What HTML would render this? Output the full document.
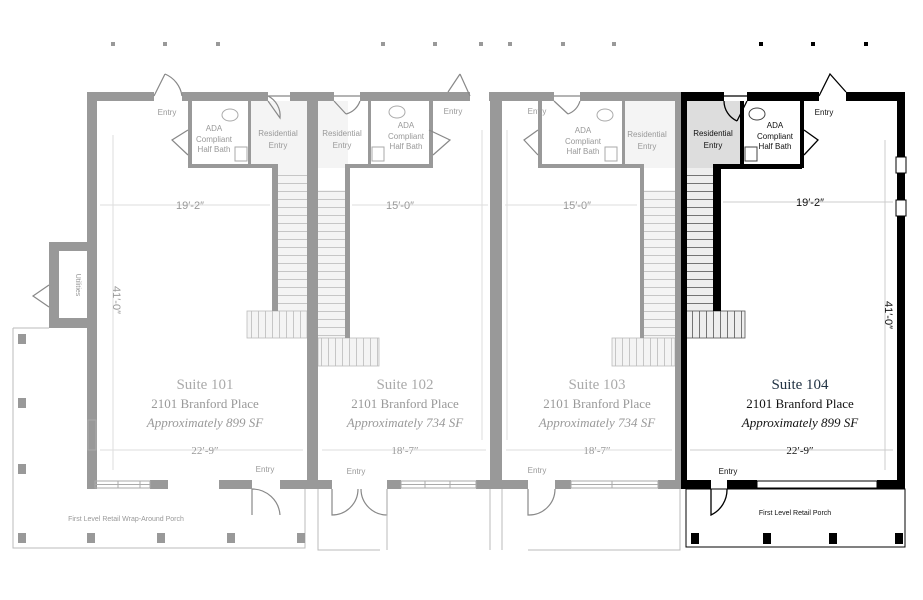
<!DOCTYPE html>
<html><head><meta charset="utf-8"><style>
html,body{margin:0;padding:0;background:#fff;}
svg{display:block;}
text{font-family:"Liberation Sans",sans-serif;}
.s text, text.s{font-family:"Liberation Serif",serif;}
</style></head><body>
<svg width="923" height="600" viewBox="0 0 923 600" xmlns="http://www.w3.org/2000/svg">
<defs>
<pattern id="st" width="10" height="8" patternUnits="userSpaceOnUse"><rect width="10" height="8" fill="#f4f4f4"/><line x1="0" y1="7.5" x2="10" y2="7.5" stroke="#bbb" stroke-width="0.8"/></pattern>
<pattern id="stv" width="7" height="10" patternUnits="userSpaceOnUse"><rect width="7" height="10" fill="#f4f4f4"/><line x1="6.5" y1="0" x2="6.5" y2="10" stroke="#bbb" stroke-width="0.8"/></pattern>
<pattern id="stb" width="10" height="8" patternUnits="userSpaceOnUse"><rect width="10" height="8" fill="#eee"/><line x1="0" y1="7.5" x2="10" y2="7.5" stroke="#555" stroke-width="0.8"/></pattern>
<pattern id="stvb" width="7" height="10" patternUnits="userSpaceOnUse"><rect width="7" height="10" fill="#eee"/><line x1="6.5" y1="0" x2="6.5" y2="10" stroke="#555" stroke-width="0.8"/></pattern>
</defs>

<g fill="#999">
<rect x="111" y="42" width="4" height="4"/><rect x="163" y="42" width="4" height="4"/><rect x="216" y="42" width="4" height="4"/>
<rect x="381" y="42" width="4" height="4"/><rect x="433" y="42" width="4" height="4"/><rect x="479" y="42" width="4" height="4"/>
<rect x="508" y="42" width="4" height="4"/><rect x="561" y="42" width="4" height="4"/><rect x="612" y="42" width="4" height="4"/>
</g>
<g fill="#000">
<rect x="759" y="42" width="4" height="4"/><rect x="811" y="42" width="4" height="4"/><rect x="864" y="42" width="4" height="4"/>
</g>

<rect x="250" y="101" width="57" height="67" fill="#f4f4f4"/>
<rect x="318" y="101" width="30" height="67" fill="#f4f4f4"/>
<rect x="625" y="101" width="50" height="67" fill="#f4f4f4"/>
<rect x="686" y="101" width="54" height="67" fill="#ddd"/>

<rect x="278" y="168" width="29" height="143" fill="url(#st)"/>
<rect x="247" y="311" width="60" height="27" fill="url(#stv)" stroke="#bbb" stroke-width="0.8"/>
<rect x="318" y="190" width="27" height="148" fill="url(#st)"/>
<rect x="318" y="338" width="61" height="28" fill="url(#stv)" stroke="#bbb" stroke-width="0.8"/>
<rect x="644" y="190" width="31" height="148" fill="url(#st)"/>
<rect x="612" y="338" width="63" height="28" fill="url(#stv)" stroke="#bbb" stroke-width="0.8"/>
<rect x="686" y="168" width="28" height="143" fill="url(#stb)"/>
<rect x="686" y="311" width="59" height="27" fill="url(#stvb)" stroke="#555" stroke-width="0.8"/>

<g fill="#999">
<rect x="87" y="92" width="67" height="9"/><rect x="182" y="92" width="86" height="9"/><rect x="290" y="92" width="44" height="9"/><rect x="360" y="92" width="110" height="9"/><rect x="489" y="92" width="65" height="9"/><rect x="580" y="92" width="101" height="9"/>
<rect x="87" y="92" width="10" height="397"/>
<rect x="49" y="242" width="48" height="9"/><rect x="49" y="242" width="10" height="86"/><rect x="49" y="318" width="48" height="10"/>
<rect x="307" y="92" width="11" height="397"/>
<rect x="490" y="92" width="12" height="397"/>
<rect x="675" y="92" width="6" height="397"/>
<rect x="188" y="101" width="4" height="67"/><rect x="188" y="164" width="90" height="4"/><rect x="248" y="101" width="3" height="67"/><rect x="272" y="164" width="6" height="147"/>
<rect x="345" y="164" width="30" height="4"/><rect x="345" y="164" width="5" height="174"/><rect x="368" y="101" width="3" height="67"/><rect x="429" y="101" width="4" height="67"/><rect x="371" y="164" width="62" height="4"/>
<rect x="538" y="101" width="4" height="67"/><rect x="538" y="164" width="106" height="4"/><rect x="622" y="101" width="3" height="67"/><rect x="640" y="164" width="4" height="174"/>
<rect x="87" y="480" width="8" height="9"/><rect x="150" y="480" width="18" height="9"/><rect x="219" y="480" width="33" height="9"/><rect x="280" y="480" width="38" height="9"/>
<rect x="318" y="480" width="14" height="9"/><rect x="387" y="480" width="14" height="9"/><rect x="476" y="480" width="30" height="9"/>
<rect x="502" y="480" width="26" height="9"/><rect x="555" y="480" width="16" height="9"/><rect x="658" y="480" width="23" height="9"/>
</g>
<g fill="none" stroke="#aaa" stroke-width="1">
<rect x="95" y="481" width="55" height="7"/><line x1="95" y1="484.5" x2="150" y2="484.5"/><line x1="118" y1="481" x2="118" y2="488"/><line x1="140" y1="481" x2="140" y2="488"/>
<rect x="401" y="481" width="75" height="7"/><line x1="401" y1="484.5" x2="476" y2="484.5"/><line x1="425" y1="481" x2="425" y2="488"/><line x1="450" y1="481" x2="450" y2="488"/>
<rect x="571" y="481" width="87" height="7"/><line x1="571" y1="484.5" x2="658" y2="484.5"/><line x1="612" y1="481" x2="612" y2="488"/>
<rect x="88" y="420" width="8" height="30"/>
</g>

<g fill="#000">
<rect x="681" y="92" width="43" height="9"/><rect x="747" y="92" width="72" height="9"/><rect x="846" y="92" width="59" height="9"/>
<rect x="681" y="92" width="6" height="397"/>
<rect x="897" y="92" width="8" height="397"/>
<rect x="713" y="164" width="30" height="5"/><rect x="713" y="164" width="8" height="147"/>
<rect x="740" y="101" width="4" height="67"/><rect x="740" y="164" width="62" height="5"/><rect x="800" y="101" width="4" height="67"/>
<rect x="681" y="480" width="30" height="9"/><rect x="727" y="480" width="30" height="9"/><rect x="877" y="480" width="28" height="9"/>
</g>
<g fill="#fff" stroke="#000" stroke-width="1">
<rect x="896" y="157" width="10" height="16"/><rect x="896" y="200" width="10" height="16"/>
<rect x="757" y="481" width="120" height="7"/>
</g>
<line x1="901" y1="360" x2="901" y2="470" stroke="#000" stroke-width="1"/>

<g fill="none" stroke="#888" stroke-width="1.2">
<path d="M154 96 L165 74 M182 96 A28 28 0 0 0 165 74"/>
<path d="M268 96 L290 96 M268 96 A22 22 0 0 1 280 118 L268 101"/>
<path d="M334 96 L360 96 M346 114 A20 20 0 0 0 360 101 M334 101 L346 114"/>
<path d="M470 96 L460 74 M460 74 L448 92"/>
<path d="M554 96 L580 96 M568 114 A20 20 0 0 0 580 101 M554 101 L568 114"/>
<path d="M188 130 L172 140 L188 155"/><path d="M429 130 L450 140 L433 155"/><path d="M538 130 L524 140 L538 155"/>
<path d="M49 285 L33 296 L49 307"/>
<path d="M252 489 L252 515 M252 489 A28 28 0 0 1 280 515"/>
<path d="M332 489 L332 515 A26 26 0 0 0 358 489 M387 489 L387 515 A26 26 0 0 1 361 489"/>
<path d="M528 489 L528 515 A26 26 0 0 0 555 489"/>
</g>
<g fill="none" stroke="#000" stroke-width="1.3">
<path d="M724 96 L747 96 M737 121 L747 101 M724 101 A22 22 0 0 0 737 121"/>
<path d="M819 96 L830 74 L846 92"/>
<path d="M804 130 L818 140 L804 155"/>
<path d="M711 489 L711 515 A28 28 0 0 0 727 489"/>
</g>
<g fill="none" stroke="#aaa" stroke-width="1">
<ellipse cx="230" cy="115" rx="8" ry="6"/><ellipse cx="397" cy="112" rx="8" ry="6"/><ellipse cx="605" cy="115" rx="8" ry="6"/>
<rect x="235" y="147" width="12" height="14"/><rect x="372" y="147" width="12" height="14"/><rect x="605" y="147" width="12" height="14"/>
</g>
<g fill="none" stroke="#444" stroke-width="1"><ellipse cx="757" cy="114" rx="8" ry="6"/><rect x="745" y="147" width="12" height="14"/></g>

<g fill="none" stroke="#bbb" stroke-width="1">
<path d="M13 328 L49 328 M13 328 L13 548 L305 548 L305 489"/>
<path d="M318 489 L318 550 L380 550 M387 489 L387 550 M490 489 L490 550 M502 489 L502 550 M528 550 L680 550 L680 489"/>
<line x1="113" y1="135" x2="113" y2="470" stroke="#ddd"/>
<line x1="100" y1="205" x2="270" y2="205" stroke="#ddd"/><line x1="352" y1="205" x2="488" y2="205" stroke="#ddd"/><line x1="505" y1="205" x2="637" y2="205" stroke="#ddd"/>
<line x1="100" y1="450" x2="303" y2="450" stroke="#ddd"/><line x1="322" y1="450" x2="486" y2="450" stroke="#ddd"/><line x1="506" y1="450" x2="672" y2="450" stroke="#ddd"/>
<line x1="482" y1="130" x2="482" y2="440" stroke="#ddd"/><line x1="507" y1="130" x2="507" y2="440" stroke="#ddd"/>
</g>
<g stroke="#ccc" fill="none"><line x1="723" y1="202" x2="893" y2="202"/><line x1="690" y1="450" x2="893" y2="450"/><line x1="885" y1="140" x2="885" y2="470"/></g>
<rect x="686" y="489" width="219" height="58" fill="none" stroke="#000" stroke-width="1"/>
<g fill="#999"><rect x="18" y="398" width="8" height="10"/><rect x="18" y="464" width="8" height="10"/>
<rect x="18" y="533" width="8" height="10"/><rect x="87" y="533" width="8" height="10"/><rect x="157" y="533" width="8" height="10"/><rect x="227" y="533" width="8" height="10"/><rect x="297" y="533" width="8" height="10"/><rect x="18" y="334" width="8" height="10"/></g>
<g fill="#000"><rect x="691" y="533" width="8" height="11"/><rect x="763" y="533" width="8" height="11"/><rect x="829" y="533" width="8" height="11"/><rect x="895" y="533" width="8" height="11"/></g>

<g fill="#999" font-size="8" text-anchor="middle">
<text x="167" y="115">Entry</text><text x="453" y="114">Entry</text><text x="537" y="114">Entry</text>
<text x="214" y="131">ADA</text><text x="214" y="142">Compliant</text><text x="214" y="152">Half Bath</text>
<text x="278" y="136">Residential</text><text x="278" y="148">Entry</text>
<text x="342" y="136">Residential</text><text x="342" y="148">Entry</text>
<text x="406" y="128">ADA</text><text x="406" y="139">Compliant</text><text x="406" y="149">Half Bath</text>
<text x="583" y="133">ADA</text><text x="583" y="144">Compliant</text><text x="583" y="154">Half Bath</text>
<text x="647" y="137">Residential</text><text x="647" y="149">Entry</text>
<text x="265" y="472">Entry</text><text x="356" y="474">Entry</text><text x="537" y="473">Entry</text>
<text x="126" y="521" font-size="7">First Level Retail Wrap-Around Porch</text>
<text x="76" y="285" font-size="7" transform="rotate(90 76 285)">Utilities</text>
</g>
<g fill="#999" font-size="11" text-anchor="middle">
<text x="190" y="209">19′-2″</text><text x="400" y="209">15′-0″</text><text x="577" y="209">15′-0″</text>
<text x="205" y="454" class="s">22′-9″</text><text x="405" y="454" class="s">18′-7″</text><text x="597" y="454" class="s">18′-7″</text>
<text x="113" y="300" transform="rotate(90 113 300)">41′-0″</text>
</g>
<g fill="#111" font-size="8" text-anchor="middle">
<text x="713" y="136">Residential</text><text x="713" y="148">Entry</text>
<text x="775" y="128">ADA</text><text x="775" y="139">Compliant</text><text x="775" y="149">Half Bath</text>
<text x="824" y="115">Entry</text><text x="728" y="474">Entry</text>
<text x="795" y="515" font-size="7">First Level Retail Porch</text>
</g>
<g fill="#111" font-size="11" text-anchor="middle">
<text x="810" y="206">19′-2″</text><text x="800" y="454" class="s">22′-9″</text>
<text x="885" y="315" transform="rotate(90 885 315)">41′-0″</text>
</g>
<g class="s" text-anchor="middle">
<text x="205" y="389" font-size="15" fill="#aaa">Suite 101</text><text x="205" y="408" font-size="13" fill="#999">2101 Branford Place</text><text x="205" y="427" font-size="13" font-style="italic" fill="#999">Approximately 899 SF</text>
<text x="405" y="389" font-size="15" fill="#aaa">Suite 102</text><text x="405" y="408" font-size="13" fill="#999">2101 Branford Place</text><text x="405" y="427" font-size="13" font-style="italic" fill="#999">Approximately 734 SF</text>
<text x="597" y="389" font-size="15" fill="#aaa">Suite 103</text><text x="597" y="408" font-size="13" fill="#999">2101 Branford Place</text><text x="597" y="427" font-size="13" font-style="italic" fill="#999">Approximately 734 SF</text>
<text x="800" y="389" font-size="15" fill="#234">Suite 104</text><text x="800" y="408" font-size="13" fill="#111">2101 Branford Place</text><text x="800" y="427" font-size="13" font-style="italic" fill="#111">Approximately 899 SF</text>
</g>
</svg>
</body></html>
